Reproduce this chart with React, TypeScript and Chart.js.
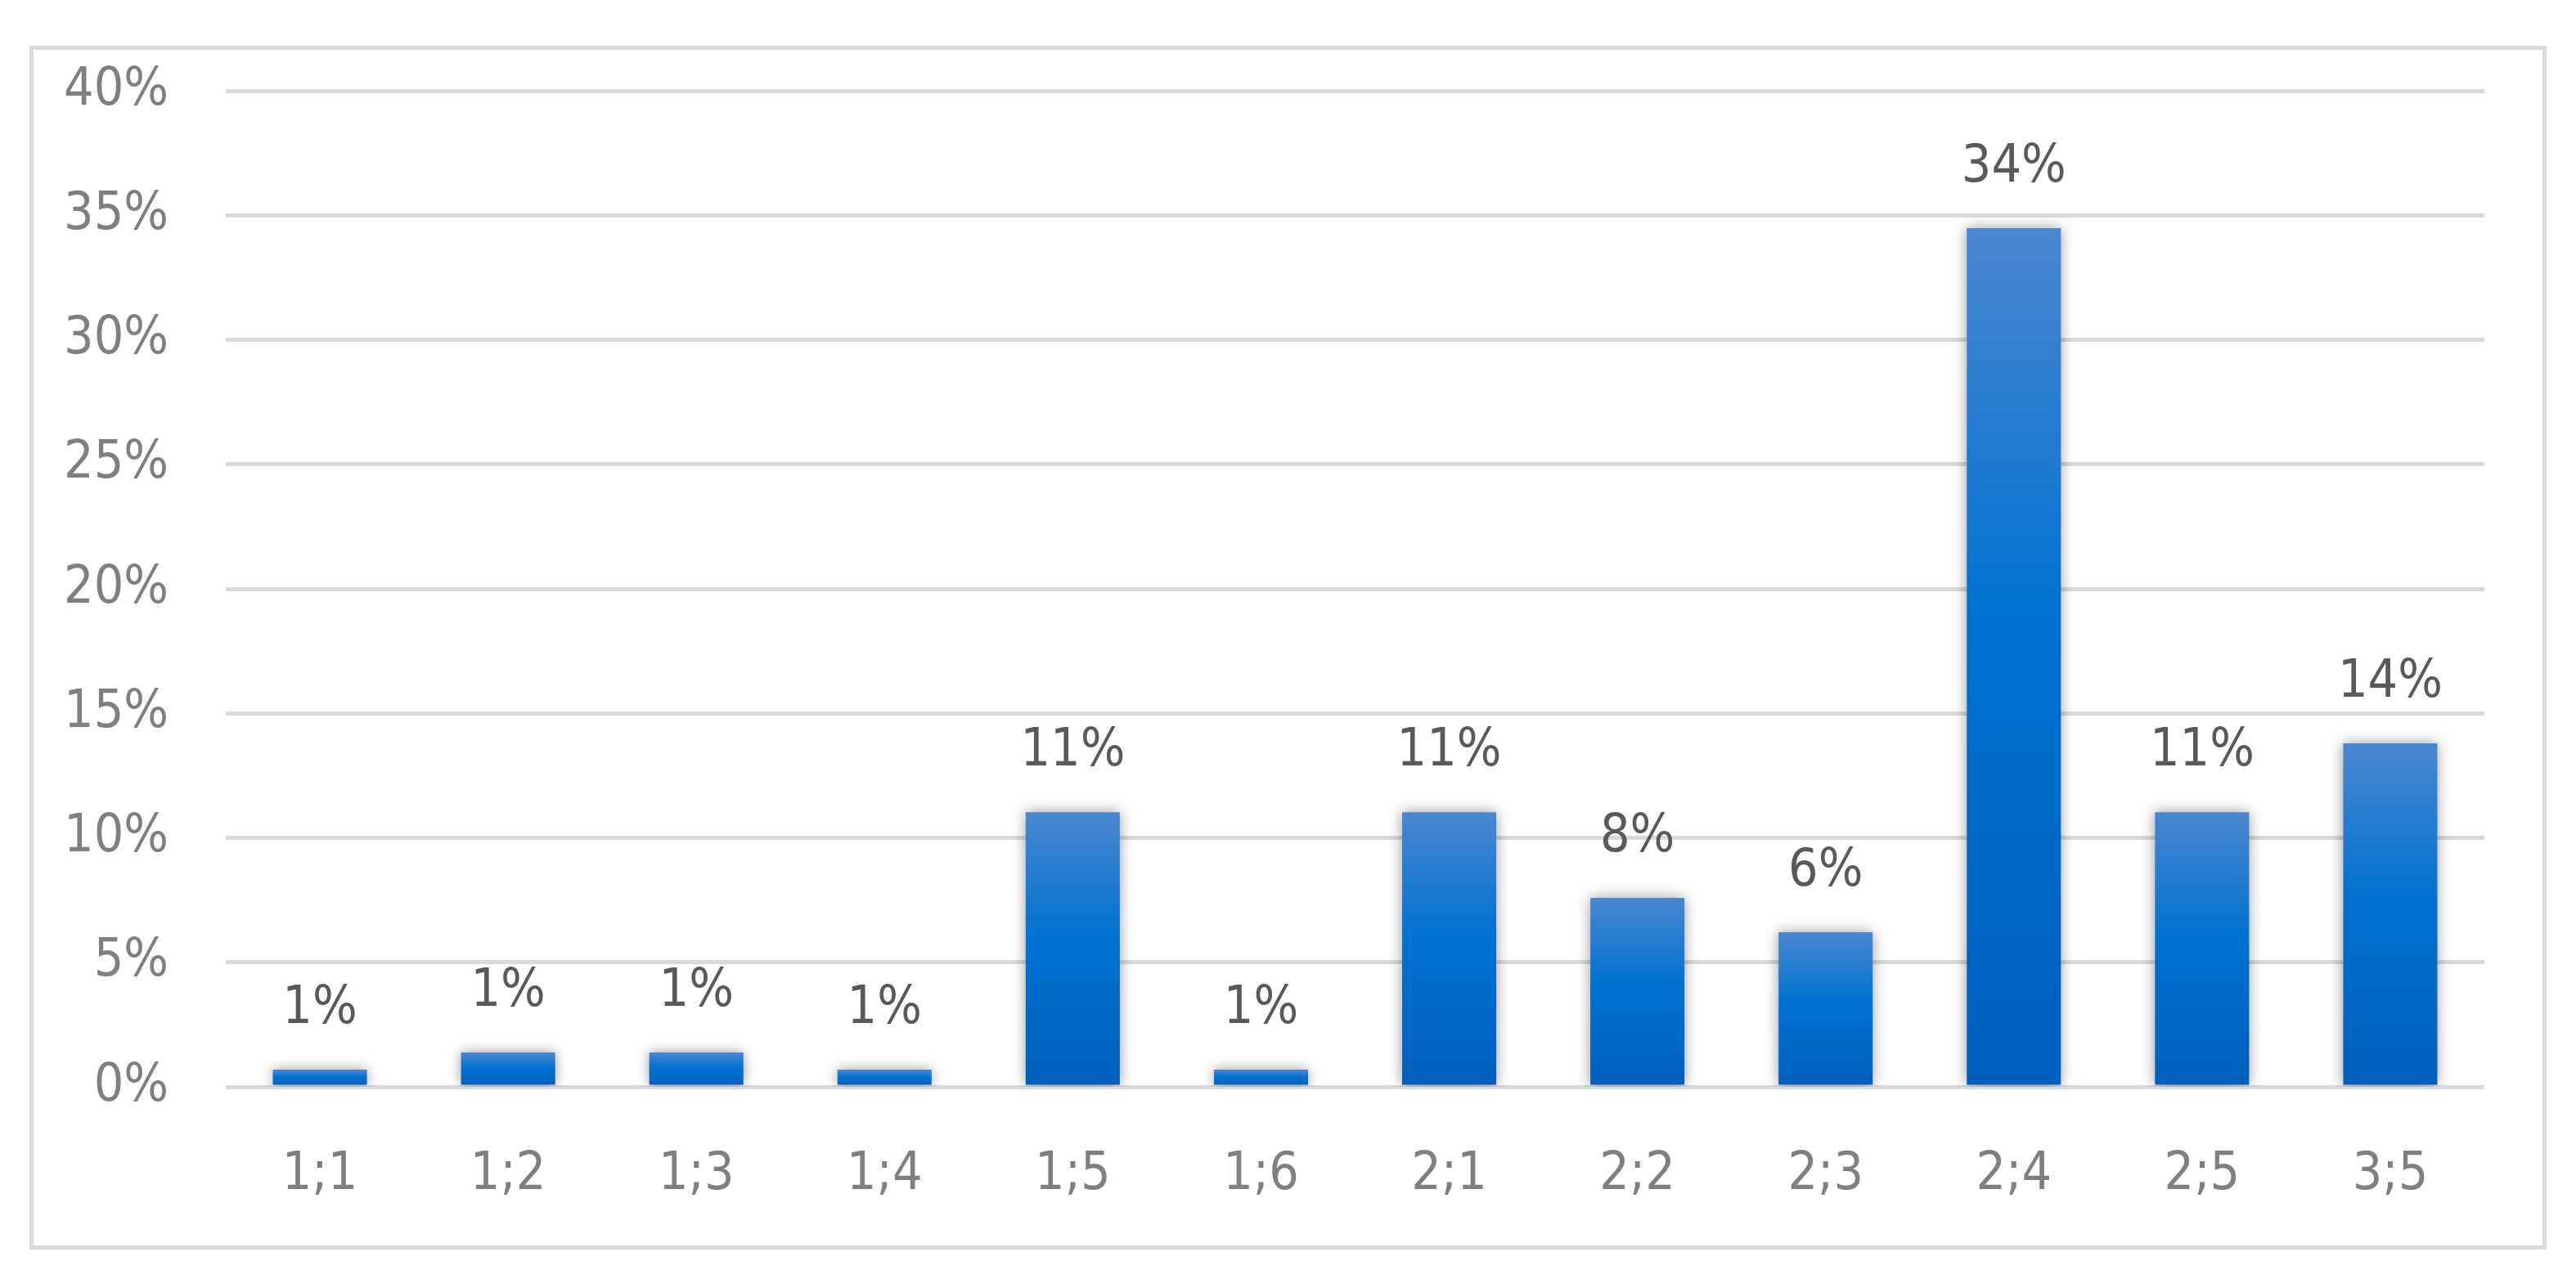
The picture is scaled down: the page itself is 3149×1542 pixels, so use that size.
import { useEffect, useRef } from "react"
import { Chart, registerables } from "chart.js"

Chart.register(...registerables)

// categories and values (percent)
const categories = ["1;1", "1;2", "1;3", "1;4", "1;5", "1;6", "2;1", "2;2", "2;3", "2;4", "2;5", "3;5"]
const shares = [0.69, 1.38, 1.38, 0.69, 11.03, 0.69, 11.03, 7.59, 6.21, 34.48, 11.03, 13.79]
const yTicks = [0, 5, 10, 15, 20, 25, 30, 35, 40]

const FONT = "'DejaVu Sans Condensed', 'DejaVu Sans', sans-serif"

// soft shadow behind the bars
const barShadow = {
  id: "barShadow",
  beforeDatasetsDraw(chart: any) {
    const ctx = chart.ctx
    ctx.save()
    ctx.shadowColor = "rgba(0,0,0,0.4)"
    ctx.shadowBlur = 16
    ctx.shadowOffsetX = 0
    ctx.shadowOffsetY = 0
  },
  afterDatasetsDraw(chart: any) {
    chart.ctx.restore()
  },
}

// value labels above each bar
const valueLabels = {
  id: "valueLabels",
  afterDraw(chart: any) {
    const ctx = chart.ctx
    const meta = chart.getDatasetMeta(0)
    ctx.save()
    ctx.font = `64px ${FONT}`
    ctx.fillStyle = "#595959"
    ctx.textAlign = "center"
    ctx.textBaseline = "alphabetic"
    meta.data.forEach((bar: any, i: number) => {
      ctx.fillText(Math.round(shares[i]) + "%", bar.x, bar.y - 57)
    })
    ctx.restore()
  },
}

export default function App() {
  const chartRef = useRef<HTMLCanvasElement>(null)
  const chartInstance = useRef<Chart | null>(null)

  useEffect(() => {
    if (!chartRef.current) return
    if (chartInstance.current) chartInstance.current.destroy()

    const ctx = chartRef.current.getContext("2d")
    if (!ctx) return

    chartInstance.current = new Chart(ctx, {
      type: "bar",
      data: {
        labels: categories,
        datasets: [
          {
            data: shares,
            barPercentage: 0.5,
            categoryPercentage: 1,
            borderWidth: 0,
            backgroundColor: (c: any) => {
              const ya = c.chart.scales?.y
              if (!ya || c.dataIndex === undefined) return "#0070d0"
              const top = ya.getPixelForValue(shares[c.dataIndex])
              const base = ya.getPixelForValue(0)
              if (!isFinite(top) || !isFinite(base) || base - top < 1) return "#0070d0"
              const g = c.chart.ctx.createLinearGradient(0, top, 0, base)
              g.addColorStop(0, "#4b87d0")
              g.addColorStop(0.45, "#0072d0")
              g.addColorStop(1, "#005fbd")
              return g
            },
          },
        ],
      },
      options: {
        animation: false,
        responsive: true,
        maintainAspectRatio: false,
        devicePixelRatio: 1,
        layout: { padding: { left: 0, top: 0, right: 71, bottom: 0 } },
        plugins: {
          legend: { display: false },
          tooltip: { enabled: false },
        },
        scales: {
          x: {
            grid: { display: false },
            border: { display: false },
            ticks: {
              color: "#7f7f7f",
              font: { family: FONT, size: 64 },
              padding: 62,
              maxRotation: 0,
            },
            afterFit: (scale: any) => {
              scale.height = 194
            },
          },
          y: {
            min: 0,
            max: 40,
            afterBuildTicks: (scale: any) => {
              scale.ticks = yTicks.map((v) => ({ value: v }))
            },
            grid: { color: "#d9d9d9", lineWidth: 5, drawTicks: false },
            border: { display: false },
            ticks: {
              color: "#7f7f7f",
              font: { family: FONT, size: 64 },
              padding: 70,
              callback: (v: any) => v + "%",
            },
            afterFit: (scale: any) => {
              // fixed axis width and space above the 40% line
              scale.width = 235
              scale.paddingTop = 50
              scale.paddingBottom = 0
            },
          },
        },
      },
      plugins: [barShadow, valueLabels],
    })

    return () => {
      if (chartInstance.current) {
        chartInstance.current.destroy()
        chartInstance.current = null
      }
    }
  }, [])

  return (
    <div style={{ position: "fixed", left: 0, top: 0, width: 3149, height: 1542, background: "#fff" }}>
      <div
        style={{
          position: "absolute",
          left: 36,
          top: 56,
          width: 3077,
          height: 1472,
          border: "5px solid #d9d9d9",
          boxSizing: "border-box",
        }}
      >
        <div style={{ position: "relative", width: "100%", height: "100%" }}>
          <canvas ref={chartRef} />
        </div>
      </div>
    </div>
  )
}
